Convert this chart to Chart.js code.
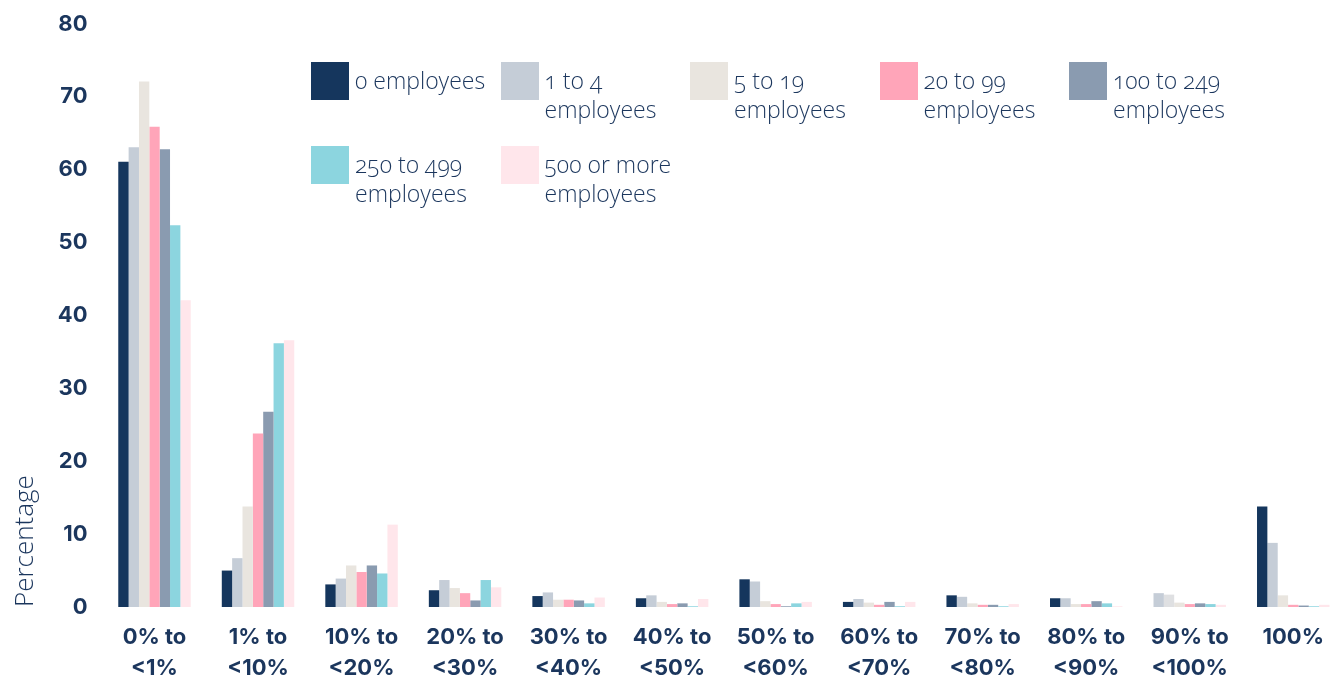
<!DOCTYPE html>
<html>
<head>
<meta charset="utf-8">
<title>Share of firms by percentage band and employment size</title>
<script src="https://cdn.jsdelivr.net/npm/chart.js@4.4.1/dist/chart.umd.min.js"></script>
<style>
  html, body { margin: 0; padding: 0; background: #ffffff; overflow: hidden; }
  #wrap { position: relative; width: 1338px; height: 683px; }
  #chart { position: absolute; left: 0; top: 0; }
  #legend {
    position: absolute; left: 311px; top: 62px; width: 960px;
    display: flex; flex-wrap: wrap;
    font-family: "Open Sans", sans-serif; font-weight: 300; font-size: 23px;
    line-height: 29px; color: #1b365d;
    font-variant-numeric: oldstyle-nums;
  }
  .item { width: 189.5px; height: 84px; display: flex; align-items: flex-start; }
  .swatch { width: 38px; height: 38px; flex: none; margin-right: 6px; }
  .label { width: 140px; padding-top: 4px; }
</style>
</head>
<body>
<div id="wrap">
  <canvas id="chart" width="1338" height="683"></canvas>
  <div id="legend"></div>
</div>
<script>
// Percentage bands (x axis)
const categories = [
  ["0% to", "<1%"], ["1% to", "<10%"], ["10% to", "<20%"], ["20% to", "<30%"],
  ["30% to", "<40%"], ["40% to", "<50%"], ["50% to", "<60%"], ["60% to", "<70%"],
  ["70% to", "<80%"], ["80% to", "<90%"], ["90% to", "<100%"], ["100%"]
];

// Employment size groups
const seriesNames = [
  "0 employees", "1 to 4 employees", "5 to 19 employees", "20 to 99 employees",
  "100 to 249 employees", "250 to 499 employees", "500 or more employees"
];

// Percentage of firms in each band, one array per size group
const emp0     = [61.1, 5.0, 3.1, 2.3, 1.5, 1.2, 3.8, 0.7, 1.6, 1.2, 1.9, 13.8];
const emp1to4  = [63.1, 6.7, 3.9, 3.7, 2.0, 1.6, 3.5, 1.1, 1.4, 1.2, 1.7, 8.8];
const emp5to19 = [72.1, 13.8, 5.7, 2.6, 1.0, 0.7, 0.8, 0.6, 0.5, 0.4, 0.6, 1.6];
const emp20to99   = [65.9, 23.8, 4.8, 1.9, 1.0, 0.4, 0.4, 0.3, 0.3, 0.4, 0.4, 0.3];
const emp100to249 = [62.8, 26.8, 5.7, 0.9, 0.9, 0.5, 0.1, 0.7, 0.3, 0.8, 0.5, 0.2];
const emp250to499 = [52.4, 36.2, 4.6, 3.7, 0.5, 0.1, 0.5, 0.1, 0.1, 0.5, 0.4, 0.1];
const emp500plus  = [42.1, 36.6, 11.3, 2.7, 1.3, 1.1, 0.7, 0.7, 0.4, 0.1, 0.3, 0.3];

// Y axis ticks
const yTicks = [0, 10, 20, 30, 40, 50, 60, 70, 80];

const seriesValues = [emp0, emp1to4, emp5to19, emp20to99, emp100to249, emp250to499, emp500plus];
const seriesColors = ["#15365d", "#c5cdd7", "#e9e5df", "#ffa5b9", "#8a9bb0", "#8cd5df", "#ffe6eb"];

// In the 90%-<100% band the two smallest size groups are shown in muted greys
const mutedBand = 10;
const mutedColors = { 0: "#c5cdd7", 1: "#dfe0e2" };

const navy = "#1b365d";

const datasets = seriesValues.map((vals, i) => ({
  label: seriesNames[i],
  data: vals,
  backgroundColor: vals.map((_, j) => (j === mutedBand && mutedColors[i]) ? mutedColors[i] : seriesColors[i]),
  borderWidth: 0,
  categoryPercentage: 0.7,
  barPercentage: 1.0,
  clip: false
}));

new Chart(document.getElementById("chart"), {
  type: "bar",
  data: { labels: categories, datasets },
  options: {
    responsive: false,
    animation: false,
    devicePixelRatio: 1,
    layout: { padding: { left: 0, right: 42.5, top: 24, bottom: 0 } },
    plugins: { legend: { display: false }, tooltip: { enabled: false } },
    scales: {
      x: {
        offset: false,
        grid: { display: false, drawTicks: false },
        border: { display: false },
        ticks: {
          color: navy,
          maxRotation: 0,
          autoSkip: false,
          padding: 14,
          font: { family: "Inter", size: 22, weight: "bold", lineHeight: 1.45 }
        },
        afterFit: (scale) => { scale.height = 76; }
      },
      y: {
        min: 0, max: 80,
        afterBuildTicks: (scale) => { scale.ticks = yTicks.map(v => ({ value: v })); },
        grid: { display: false, drawTicks: false },
        border: { display: false },
        ticks: {
          color: navy,
          padding: 67,
          font: { family: "Inter", size: 22, weight: "bold" }
        },
        title: {
          display: true,
          text: "Percentage",
          align: "start",
          color: navy,
          padding: { top: 10, bottom: 0 },
          font: { family: "Open Sans", size: 26, weight: "300" }
        },
        afterFit: (scale) => {
          // fixed axis width; the wide tick gap should not push the plot vertically
          scale.width = 154.5;
          scale.paddingTop = 13;
          scale.paddingBottom = 13;
        }
      }
    }
  }
});

// Legend, built from the series names and colours
const legend = document.getElementById("legend");
seriesNames.forEach((name, i) => {
  const item = document.createElement("div");
  item.className = "item";
  const sw = document.createElement("div");
  sw.className = "swatch";
  sw.style.background = seriesColors[i];
  const lab = document.createElement("div");
  lab.className = "label";
  lab.textContent = name;
  item.appendChild(sw);
  item.appendChild(lab);
  legend.appendChild(item);
});
</script>
</body>
</html>
